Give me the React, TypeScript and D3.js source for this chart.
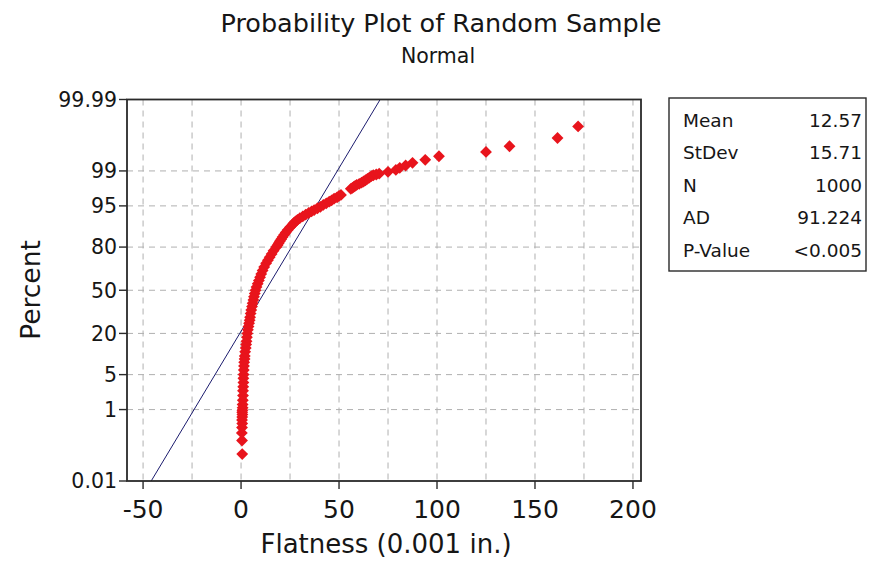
import React from "react";
import * as d3 from "d3";

const TITLE = "Probability Plot of Random Sample";
const SUBTITLE = "Normal";
const X_LABEL = "Flatness (0.001 in.)";
const Y_LABEL = "Percent";

const yTicks = [0.01, 1, 5, 20, 50, 80, 95, 99, 99.99];
const yTickLabels = ["0.01", "1", "5", "20", "50", "80", "95", "99", "99.99"];
const yGrid = [1, 5, 20, 50, 80, 95, 99];
const xTicks = [-50, 0, 50, 100, 150, 200];
const xGrid = [-50, -25, 0, 25, 50, 75, 100, 125, 150, 175, 200];

const statLabels = ["Mean", "StDev", "N", "AD", "P-Value"];
const statValues = ["12.57", "15.71", "1000", "91.224", "<0.005"];
const MEAN = 12.57;
const STDEV = 15.71;

// cumulative percent and flatness value of the plotted points
const percents = [
  0.07, 0.17, 0.27, 0.37, 0.47, 0.57, 0.67, 0.77, 0.87, 0.97,
  1.1, 1.3, 1.6, 2.0, 2.5, 3.0, 3.6, 4.3, 5.0, 6.0,
  7.0, 8.0, 9.0, 10, 11.5, 13, 14.5, 16, 18, 20,
  22, 24, 26, 28, 30, 32.5, 35, 37.5, 40, 42.5,
  45, 47.5, 50, 52.5, 55, 57.5, 60, 62.5, 65, 67.5,
  70, 72, 74, 76, 78, 80, 81, 82, 83, 84,
  85, 86, 87, 88, 89, 90, 90.5, 91, 91.5, 92,
  92.5, 93, 93.4, 93.8, 94.1, 94.5, 94.8, 95.2, 95.5, 95.8,
  96.0, 96.3, 96.5, 96.7, 96.85, 97.6, 97.7, 97.8, 97.9,
  98.0, 98.1, 98.2, 98.3, 98.4, 98.5, 98.6, 98.7, 98.75, 98.8,
  98.85, 98.95, 99.05, 99.15, 99.25, 99.35, 99.45, 99.55, 99.65, 99.75,
  99.85, 99.93,
];
const flatness = [
  0.6, 0.5, 0.4, 0.5, 0.6, 0.5, 0.6, 0.7, 0.6, 0.7,
  0.8, 0.8, 0.9, 1.0, 1.0, 1.1, 1.2, 1.2, 1.3, 1.4,
  1.5, 1.6, 1.8, 1.9, 2.1, 2.4, 2.6, 2.8, 3.0, 3.2,
  3.5, 3.8, 4.1, 4.4, 4.6, 4.9, 5.2, 5.6, 5.9, 6.3,
  6.6, 7.0, 7.4, 7.9, 8.5, 9.1, 9.7, 10.3, 11.0, 11.8,
  12.8, 13.7, 14.6, 15.6, 16.6, 18.0, 18.6, 19.2, 19.8, 20.5,
  21.2, 22.0, 22.8, 23.8, 25.0, 26.3, 27.0, 27.8, 28.8, 30.0,
  31.5, 33.0, 34.5, 36.0, 37.3, 39.0, 40.5, 42.0, 43.5, 45.0,
  46.2, 47.5, 49.0, 50.0, 51.0, 56.0, 56.8, 57.5, 58.2,
  59.0, 60.3, 61.5, 62.5, 63.5, 64.5, 65.5, 66.5, 67.5, 69.0,
  70.5, 75.0, 79.0, 81.0, 84.0, 87.5, 94.0, 101.0, 125.0, 137.0,
  161.5, 172.0,
];

// inverse standard normal CDF (Acklam) for the probability axis
function probit(p: number): number {
  const a = [-3.969683028665376e1, 2.209460984245205e2, -2.759285104469687e2, 1.38357751867269e2, -3.066479806614716e1, 2.506628277459239];
  const b = [-5.447609879822406e1, 1.615858368580409e2, -1.556989798598866e2, 6.680131188771972e1, -1.328068155288572e1];
  const c = [-7.784894002430293e-3, -3.223964580411365e-1, -2.400758277161838, -2.549732539343734, 4.374664141464968, 2.938163982698783];
  const d = [7.784695709041462e-3, 3.224671290700398e-1, 2.445134137142996, 3.754408661907416];
  const pl = 0.02425;
  if (p < pl) {
    const q = Math.sqrt(-2 * Math.log(p));
    return (((((c[0] * q + c[1]) * q + c[2]) * q + c[3]) * q + c[4]) * q + c[5]) / ((((d[0] * q + d[1]) * q + d[2]) * q + d[3]) * q + 1);
  }
  if (p > 1 - pl) {
    const q = Math.sqrt(-2 * Math.log(1 - p));
    return -(((((c[0] * q + c[1]) * q + c[2]) * q + c[3]) * q + c[4]) * q + c[5]) / ((((d[0] * q + d[1]) * q + d[2]) * q + d[3]) * q + 1);
  }
  const q = p - 0.5;
  const r = q * q;
  return ((((((a[0] * r + a[1]) * r + a[2]) * r + a[3]) * r + a[4]) * r + a[5]) * q) / (((((b[0] * r + b[1]) * r + b[2]) * r + b[3]) * r + b[4]) * r + 1);
}

const W = 870;
const H = 561;
const L = 127, R = 641, T = 99.5, B = 481;
const FONT = "'DejaVu Sans', Verdana, sans-serif";
const INK = "#161616";

export default function App() {
  const x = d3.scaleLinear().domain([-58.2, 204.1]).range([L, R]);
  const zMax = probit(0.9999);
  const zs = d3.scaleLinear().domain([-zMax, zMax]).range([B, T]);
  const y = (pct: number) => zs(probit(pct / 100));

  const diamond = d3.symbol().type(d3.symbolSquare).size(70)();
  const fitZ = [-zMax, zMax];
  const fitPath = d3.line<number>()
    .x((z) => x(MEAN + STDEV * z))
    .y((z) => zs(z))(fitZ) || "";

  const pts = percents.map((p, i) => ({ p, v: flatness[i] }));

  return (
    <svg width={W} height={H} style={{ position: "absolute", left: 0, top: 0, background: "#fff" }} fontFamily={FONT}>
      <defs>
        <clipPath id="plotclip">
          <rect x={L} y={T} width={R - L} height={B - T} />
        </clipPath>
      </defs>
      <rect x={0} y={0} width={W} height={H} fill="#fff" />
      <text x={441} y={32} textAnchor="middle" fontSize={25.5} fill={INK}>{TITLE}</text>
      <text x={438} y={63} textAnchor="middle" fontSize={20.5} fill={INK}>{SUBTITLE}</text>

      {/* grid */}
      <g stroke="#b0b0b0" strokeWidth={1} strokeDasharray="6,5">
        {xGrid.map((g) => (
          <line key={"gx" + g} x1={x(g)} x2={x(g)} y1={T} y2={B} />
        ))}
        {yGrid.map((g) => (
          <line key={"gy" + g} x1={L} x2={R} y1={y(g)} y2={y(g)} />
        ))}
      </g>

      {/* fitted line */}
      <path d={fitPath} stroke="#1c1c6e" strokeWidth={1} fill="none" clipPath="url(#plotclip)" />

      {/* points */}
      <g fill="#e8141c" clipPath="url(#plotclip)">
        {pts.map((d, i) => (
          <path key={i} d={diamond} transform={`translate(${x(d.v)},${y(d.p)}) rotate(45)`} />
        ))}
      </g>

      {/* frame */}
      <rect x={L} y={T} width={R - L} height={B - T} fill="none" stroke="#2a2a2a" strokeWidth={1.8} />

      {/* y axis */}
      {yTicks.map((t, i) => (
        <g key={"yt" + t}>
          <line x1={L - 8} x2={L} y1={y(t)} y2={y(t)} stroke="#2a2a2a" strokeWidth={1.4} />
          <text x={L - 10} y={y(t)} dy="0.36em" textAnchor="end" fontSize={20.5} fill={INK}>{yTickLabels[i]}</text>
        </g>
      ))}
      {/* x axis */}
      {xTicks.map((t) => (
        <g key={"xt" + t}>
          <line x1={x(t)} x2={x(t)} y1={B} y2={B + 8} stroke="#2a2a2a" strokeWidth={1.4} />
          <text x={x(t)} y={518} textAnchor="middle" fontSize={25} fill={INK}>{String(t)}</text>
        </g>
      ))}
      <text x={386} y={553} textAnchor="middle" fontSize={26} fill={INK}>{X_LABEL}</text>
      <text transform="translate(40,290) rotate(-90)" textAnchor="middle" fontSize={26.5} fill={INK}>{Y_LABEL}</text>

      {/* stats box */}
      <rect x={669} y={98} width={197} height={173} fill="#fff" stroke="#2a2a2a" strokeWidth={1.4} />
      {statLabels.map((s, i) => (
        <g key={"st" + s}>
          <text x={683} y={127 + i * 32.4} fontSize={18.5} fill={INK}>{s}</text>
          <text x={862} y={127 + i * 32.4} textAnchor="end" fontSize={18.5} fill={INK}>{statValues[i]}</text>
        </g>
      ))}
    </svg>
  );
}
